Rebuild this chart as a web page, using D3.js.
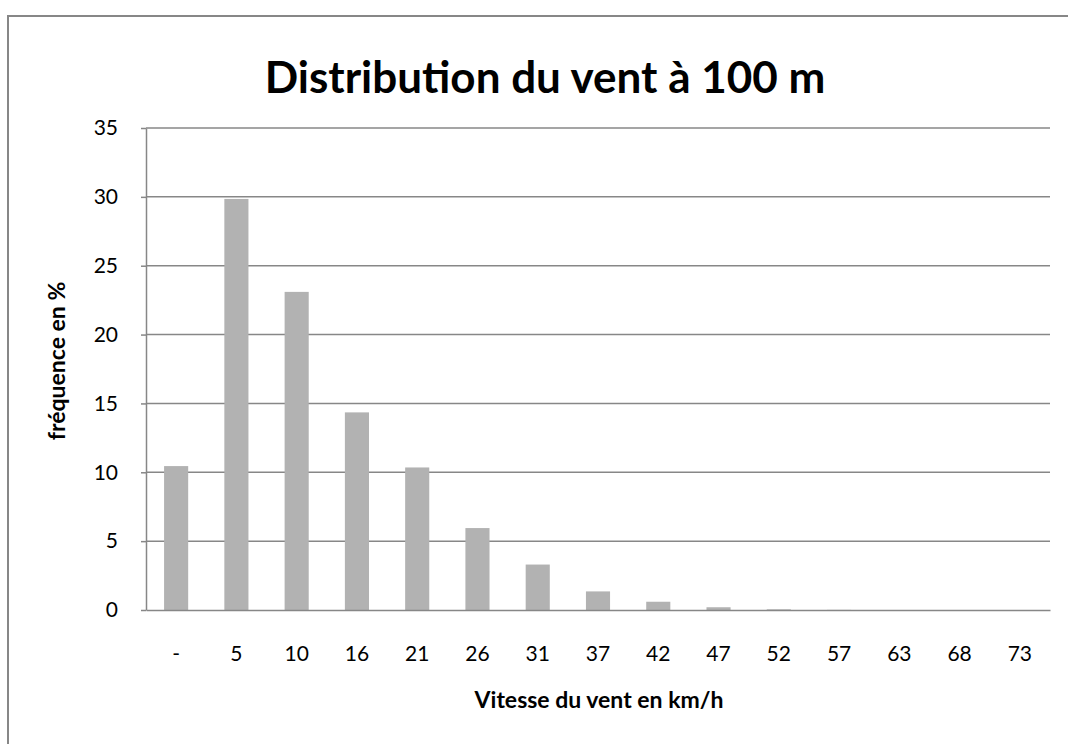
<!DOCTYPE html>
<html lang="fr">
<head>
    <meta charset="UTF-8">
    <title>Distribution du vent à 100 m</title>
    <style>
        body { margin: 0; background: #fff; }
        svg text { font-family: Lato, "Open Sans", sans-serif; fill: #000; }
    </style>
    <script src="https://d3js.org/d3.v7.min.js"></script>
</head>
<body>
    <div id="chart"></div>
    <script>
        // wind speed classes (km/h) and frequency in %
        const categories = ["-", "5", "10", "16", "21", "26", "31", "37", "42", "47", "52", "57", "63", "68", "73"];
        const frequencies = [10.45, 29.85, 23.1, 14.35, 10.35, 5.95, 3.3, 1.35, 0.6, 0.2, 0.05, 0.01, 0, 0, 0];
        const yTicks = [0, 5, 10, 15, 20, 25, 30, 35];

        const W = 1068, H = 744;
        const margin = {top: 128, right: 18, bottom: 134, left: 146};
        const width = W - margin.left - margin.right;
        const height = H - margin.top - margin.bottom;

        const svg = d3.select("#chart")
            .append("svg")
            .attr("width", W)
            .attr("height", H);

        // outer frame of the chart (runs off the right and bottom edges)
        svg.append("rect")
            .attr("x", 8)
            .attr("y", 16)
            .attr("width", W + 20)
            .attr("height", H + 20)
            .attr("fill", "none")
            .attr("stroke", "#878787")
            .attr("stroke-width", 2);

        svg.append("text")
            .attr("x", 545)
            .attr("y", 93)
            .attr("text-anchor", "middle")
            .style("font-size", "44px")
            .style("font-weight", "bold")
            .text("Distribution du vent à 100 m");

        const g = svg.append("g")
            .attr("transform", `translate(${margin.left},${margin.top})`);

        const x = d3.scaleBand().domain(categories).range([0, width]).paddingInner(0.6).paddingOuter(0.3);
        const y = d3.scaleLinear().domain([0, 35]).range([height, 0]);

        // horizontal gridlines
        g.selectAll(".grid")
            .data(yTicks.filter(d => d > 0))
            .enter()
            .append("line")
            .attr("x1", 0)
            .attr("x2", width)
            .attr("y1", d => y(d))
            .attr("y2", d => y(d))
            .attr("stroke", "#878787")
            .attr("stroke-width", 1.5);

        // bars
        g.selectAll(".bar")
            .data(frequencies)
            .enter()
            .append("rect")
            .attr("x", (d, i) => x(categories[i]))
            .attr("y", d => y(d))
            .attr("width", x.bandwidth())
            .attr("height", d => height - y(d))
            .attr("fill", "#b2b2b2");

        // y axis
        const yAxis = g.append("g")
            .call(d3.axisLeft(y).tickValues(yTicks).tickSize(5).tickSizeOuter(0).tickPadding(23));
        yAxis.select(".domain").attr("stroke", "#878787").attr("stroke-width", 1.5);
        yAxis.selectAll(".tick line").attr("stroke", "#878787").attr("stroke-width", 1.5);
        yAxis.selectAll("text").style("font-size", "21px").attr("fill", "#000");

        // x axis
        const xAxis = g.append("g")
            .attr("transform", `translate(0,${height})`)
            .call(d3.axisBottom(x).tickSize(0).tickSizeOuter(0).tickPadding(36));
        xAxis.select(".domain").attr("stroke", "#878787").attr("stroke-width", 1.5);
        xAxis.selectAll("text").style("font-size", "21px").attr("fill", "#000");

        // axis titles
        svg.append("text")
            .attr("x", 599)
            .attr("y", 708)
            .attr("text-anchor", "middle")
            .style("font-size", "23px")
            .style("font-weight", "bold")
            .text("Vitesse du vent en km/h");

        svg.append("text")
            .attr("transform", "translate(65,361) rotate(-90)")
            .attr("text-anchor", "middle")
            .style("font-size", "23px")
            .style("font-weight", "bold")
            .text("fréquence en %");
    </script>
</body>
</html>
